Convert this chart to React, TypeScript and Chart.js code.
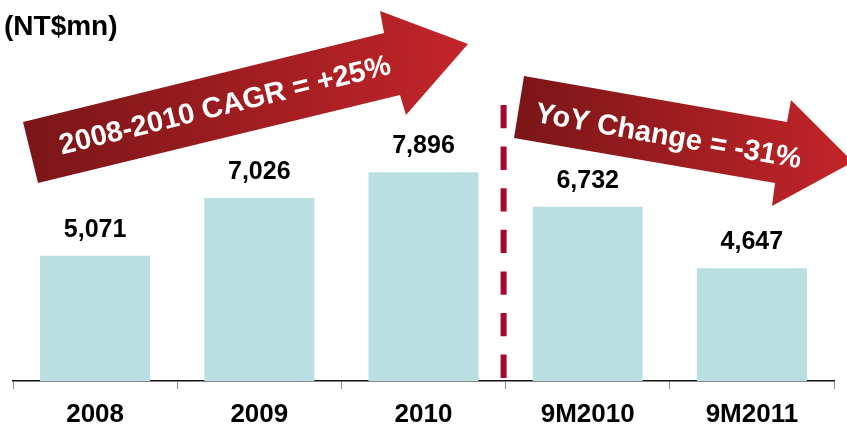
import React, { useEffect, useRef } from "react";
import { Chart, registerables } from "chart.js";

Chart.register(...registerables);

const CATEGORIES = ["2008", "2009", "2010", "9M2010", "9M2011"];
const REVENUE = [5071, 7026, 7896, 6732, 4647];
const UNIT_LABEL = "(NT$mn)";
const CAGR_TEXT = "2008-2010 CAGR = +25%";
const YOY_TEXT = "YoY Change = -31%";

const FONT = "'Liberation Sans', Arial, sans-serif";
const BAR_COLOR = "#b9dfe3";
const DASH_COLOR = "#a50a2e";

// decorative arrow outlines (pixel space)
const ARROW_UP: [number, number][] = [
  [23, 122], [384, 33], [380, 11], [468, 44], [406, 115], [400, 95], [38, 183],
];
const ARROW_DOWN: [number, number][] = [
  [524, 76], [787, 122], [791, 100], [853, 162], [772, 206], [775, 183], [514, 138],
];

function drawArrow(ctx: CanvasRenderingContext2D, pts: [number, number][]) {
  const xs = pts.map((p) => p[0]);
  const minX = Math.min(...xs);
  const maxX = Math.max(...xs);
  const g = ctx.createLinearGradient(minX, 0, maxX, 0);
  g.addColorStop(0, "#7a1518");
  g.addColorStop(1, "#c32529");
  ctx.beginPath();
  pts.forEach((p, i) => (i === 0 ? ctx.moveTo(p[0], p[1]) : ctx.lineTo(p[0], p[1])));
  ctx.closePath();
  ctx.fillStyle = g;
  ctx.fill();
}

function drawRotatedText(
  ctx: CanvasRenderingContext2D,
  text: string,
  x: number,
  y: number,
  angleDeg: number
) {
  ctx.save();
  ctx.translate(x, y);
  ctx.rotate((angleDeg * Math.PI) / 180);
  ctx.font = `bold 29px ${FONT}`;
  ctx.fillStyle = "#ffffff";
  ctx.textAlign = "center";
  ctx.textBaseline = "alphabetic";
  ctx.fillText(text, 0, 0);
  ctx.restore();
}

const decorPlugin = {
  id: "decor",
  afterDraw(chart: any) {
    const ctx: CanvasRenderingContext2D = chart.ctx;
    const xScale = chart.scales.x;
    ctx.save();

    // unit title
    ctx.font = `bold 28px ${FONT}`;
    ctx.fillStyle = "#000";
    ctx.textAlign = "left";
    ctx.textBaseline = "alphabetic";
    ctx.fillText(UNIT_LABEL, 4, 35);

    // dashed separator between 2010 and 9M2010
    const sepX = xScale.getPixelForValue(2.5) - 2;
    ctx.beginPath();
    ctx.setLineDash([23.3, 18.3]);
    ctx.lineWidth = 6;
    ctx.strokeStyle = DASH_COLOR;
    ctx.moveTo(sepX, 105);
    ctx.lineTo(sepX, chart.chartArea.bottom - 3);
    ctx.stroke();
    ctx.setLineDash([]);

    // arrows
    drawArrow(ctx, ARROW_UP);
    drawArrow(ctx, ARROW_DOWN);
    drawRotatedText(ctx, CAGR_TEXT, 227, 114, -13.8);
    drawRotatedText(ctx, YOY_TEXT, 667, 145, 9.9);

    // value labels
    const meta = chart.getDatasetMeta(0);
    ctx.font = `bold 25px ${FONT}`;
    ctx.fillStyle = "#000";
    ctx.textAlign = "center";
    ctx.textBaseline = "alphabetic";
    meta.data.forEach((bar: any, i: number) => {
      const v = chart.data.datasets[0].data[i] as number;
      ctx.fillText(v.toLocaleString("en-US"), bar.x, bar.y - 19);
    });

    ctx.restore();
  },
};

export default function App() {
  const canvasRef = useRef<HTMLCanvasElement | null>(null);

  useEffect(() => {
    if (!canvasRef.current) return;
    const chart = new Chart(canvasRef.current, {
      type: "bar",
      data: {
        labels: CATEGORIES,
        datasets: [
          {
            data: REVENUE,
            backgroundColor: BAR_COLOR,
            borderWidth: 0,
            barPercentage: 0.67,
            categoryPercentage: 1,
          },
        ],
      },
      options: {
        animation: false,
        responsive: false,
        devicePixelRatio: 1,
        layout: { padding: { left: 13, right: 13, top: 60, bottom: 0 } },
        plugins: {
          legend: { display: false },
          tooltip: { enabled: false },
          title: { display: false },
        },
        scales: {
          x: {
            afterFit: (scale: any) => {
              scale.height = 46;
            },
            grid: {
              display: true,
              drawOnChartArea: false,
              drawTicks: true,
              tickLength: 8,
              color: "#8a8a8a",
              lineWidth: 1,
            },
            border: { display: true, color: "#111", width: 1.5 },
            ticks: {
              color: "#000",
              padding: 10,
              font: { family: FONT, size: 26, weight: "bold" },
            },
          },
          y: {
            display: false,
            min: 830,
            max: 11700,
          },
        },
      },
      plugins: [decorPlugin],
    } as any);
    return () => chart.destroy();
  }, []);

  return (
    <div style={{ position: "absolute", left: 0, top: 0, width: 847, height: 427, background: "#fff" }}>
      <canvas ref={canvasRef} width={847} height={427} style={{ display: "block" }} />
    </div>
  );
}
